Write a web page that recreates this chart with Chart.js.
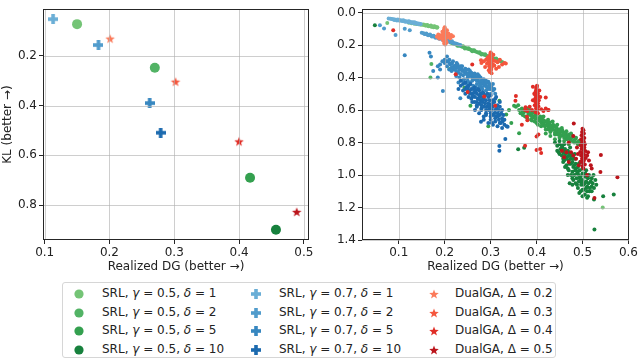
<!DOCTYPE html>
<html>
<head>
    <title>SRL vs DualGA</title>
    <meta charset="UTF-8">
    <script src="https://cdn.jsdelivr.net/npm/chart.js"></script>
    <style>
        body { margin: 0; width: 640px; height: 361px; background: #fff; position: relative; overflow: hidden;
               font-family: "DejaVu Sans", sans-serif; color: #222; }
        .wrap { position: absolute; top: 0; height: 275px; }
        #legend { position: absolute; left: 62px; top: 282px; width: 494px; height: 76px;
                  border: 1px solid #d6d6d6; border-radius: 3px; box-sizing: border-box; }
        .item { position: absolute; font-size: 12px; line-height: 14px; white-space: nowrap; }
    </style>
</head>
<body>
<div class="wrap" style="left:0;width:316px"><canvas id="left"></canvas></div>
<div class="wrap" style="left:320px;width:320px"><canvas id="right"></canvas></div>
<div id="legend"></div>
<script>
    // 图例标签
    var deltaValues = ['1', '2', '5', '10'];
    var bigDeltaValues = ['0.2', '0.3', '0.4', '0.5'];

    // 颜色
    var greenColors = ['#74c476', '#52b365', '#34a04f', '#17813d'];
    var blueColors = ['#6aaed6', '#519ccc', '#3787c0', '#1c6aaf'];
    var redColors = ['#fb7a5a', '#f5573e', '#e02d26', '#bb141b'];

    // 左图：平均值 [DG, KL]
    var meanGreen = [[0.150, 0.073], [0.270, 0.248], [0.417, 0.690], [0.457, 0.899]];
    var meanBlue = [[0.113, 0.053], [0.183, 0.157], [0.262, 0.390], [0.279, 0.509]];
    var meanRed = [[0.201, 0.131], [0.302, 0.304], [0.400, 0.544], [0.489, 0.827]];

    // 右图：每次运行的点
    var runsGreen1 = [[0.122,0.062],[0.128,0.066],[0.134,0.068],[0.139,0.07],[0.144,0.072],[0.148,0.074],[0.152,0.075],[0.156,0.077],[0.16,0.079],[0.163,0.08],[0.166,0.082],[0.169,0.083],[0.172,0.085],[0.175,0.086],[0.178,0.087],[0.181,0.089],[0.184,0.09],[0.158,0.08],[0.165,0.084],[0.171,0.087],[0.176,0.09],[0.183,0.093],[0.154,0.073],[0.162,0.076],[0.17,0.08],[0.178,0.084],[0.075,0.064],[0.544,1.2]];
    var runsGreen2 = [[0.214,0.185],[0.218,0.19],[0.222,0.194],[0.226,0.198],[0.23,0.202],[0.234,0.206],[0.238,0.21],[0.242,0.214],[0.246,0.218],[0.25,0.222],[0.254,0.226],[0.258,0.23],[0.262,0.234],[0.266,0.238],[0.27,0.243],[0.274,0.247],[0.278,0.251],[0.282,0.255],[0.286,0.26],[0.29,0.264],[0.294,0.268],[0.298,0.272],[0.302,0.277],[0.306,0.281],[0.31,0.285],[0.314,0.29],[0.318,0.295],[0.322,0.3],[0.326,0.305],[0.24,0.207],[0.252,0.219],[0.264,0.231],[0.276,0.244],[0.288,0.257],[0.3,0.27],[0.312,0.283],[0.228,0.204],[0.244,0.221],[0.26,0.238],[0.28,0.258],[0.296,0.276],[0.316,0.298],[0.171,0.317],[0.169,0.4],[0.21,0.347]];
    var runsGreen5 = [[0.355,0.58],[0.362,0.6],[0.368,0.59],[0.372,0.615],[0.378,0.605],[0.382,0.625],[0.386,0.63],[0.39,0.62],[0.392,0.645],[0.396,0.635],[0.398,0.655],[0.402,0.65],[0.405,0.665],[0.408,0.64],[0.41,0.675],[0.413,0.66],[0.415,0.685],[0.418,0.67],[0.42,0.695],[0.423,0.68],[0.425,0.7],[0.428,0.688],[0.43,0.71],[0.432,0.695],[0.435,0.715],[0.438,0.7],[0.44,0.725],[0.443,0.71],[0.445,0.735],[0.448,0.72],[0.45,0.745],[0.453,0.73],[0.455,0.755],[0.458,0.74],[0.46,0.76],[0.463,0.75],[0.466,0.77],[0.47,0.76],[0.473,0.78],[0.477,0.77],[0.48,0.79],[0.484,0.78],[0.488,0.8],[0.492,0.79],[0.41,0.7],[0.42,0.72],[0.43,0.735],[0.44,0.75],[0.45,0.77],[0.4,0.68],[0.39,0.665],[0.38,0.65],[0.425,0.66],[0.435,0.67],[0.445,0.69],[0.455,0.71],[0.465,0.73],[0.475,0.745],[0.385,0.6],[0.37,0.63],[0.395,0.61],[0.415,0.64],[0.46,0.79],[0.47,0.81],[0.44,0.78],[0.43,0.76],[0.42,0.745],
        [0.36,0.57],[0.365,0.62],[0.37,0.6],[0.375,0.64],[0.38,0.59],[0.385,0.62],[0.388,0.66],[0.392,0.61],[0.396,0.67],[0.4,0.63],[0.403,0.69],[0.406,0.655],[0.41,0.65],[0.412,0.69],[0.416,0.665],[0.418,0.7],[0.422,0.67],[0.426,0.72],[0.428,0.675],[0.432,0.725],[0.436,0.69],[0.44,0.74],[0.442,0.7],[0.446,0.75],[0.45,0.72],[0.452,0.76],[0.456,0.725],[0.46,0.77],[0.462,0.74],[0.466,0.78],[0.47,0.75],[0.474,0.79],[0.478,0.76],[0.482,0.8],[0.486,0.77],[0.49,0.81],[0.494,0.8],[0.498,0.82],[0.47,0.77],[0.45,0.73],[0.43,0.7],[0.41,0.66],[0.39,0.64],[0.37,0.61],
        [0.243,0.463],[0.256,0.573],[0.295,0.699],[0.319,0.543],[0.334,0.627],[0.351,0.573],[0.362,0.742],[0.34,0.6],[0.345,0.68]];
    var runsGreen10 = [[0.44,0.8],[0.445,0.82],[0.45,0.81],[0.452,0.84],[0.456,0.83],[0.458,0.86],[0.46,0.85],[0.462,0.875],[0.465,0.86],[0.466,0.89],[0.47,0.88],[0.47,0.91],[0.474,0.9],[0.475,0.93],[0.478,0.92],[0.48,0.95],[0.482,0.94],[0.484,0.97],[0.486,0.96],[0.488,0.99],[0.49,0.98],[0.492,1.0],[0.494,1.02],[0.496,1.01],[0.498,1.04],[0.5,1.03],[0.502,1.06],[0.505,1.05],[0.508,1.08],[0.51,1.07],[0.515,1.1],[0.455,0.88],[0.46,0.91],[0.465,0.94],[0.47,0.97],[0.475,1.0],[0.48,1.03],[0.485,1.05],[0.468,0.85],[0.476,0.87],[0.484,0.9],[0.492,0.93],[0.5,0.96],[0.506,0.99],[0.512,1.02],[0.518,1.04],[0.52,1.07],[0.448,0.86],[0.458,0.9],[0.462,0.95],[0.472,1.05],[0.478,1.06],[0.49,1.08],[0.496,1.1],[0.505,1.12],[0.512,1.13],[0.524,1.0],[0.52,1.02],[0.525,1.08],[0.5,1.13],[0.488,1.06],
        [0.445,0.85],[0.45,0.87],[0.455,0.82],[0.458,0.92],[0.462,0.84],[0.465,0.9],[0.468,0.96],[0.47,0.86],[0.472,0.93],[0.475,0.88],[0.478,0.98],[0.48,0.9],[0.482,1.0],[0.485,0.93],[0.487,1.02],[0.49,0.95],[0.492,1.04],[0.494,0.97],[0.497,1.06],[0.5,0.99],[0.503,1.09],[0.506,1.01],[0.508,1.04],[0.51,1.1],[0.513,1.05],[0.516,1.08],[0.52,1.1],[0.522,1.05],[0.514,1.0],[0.508,0.97],[0.495,0.92],[0.483,0.87],[0.473,0.83],[0.46,0.81],[0.45,0.79],[0.468,1.0],[0.478,1.02],[0.5,1.09],[0.493,1.11],[0.51,1.14],[0.53,1.06],[0.528,1.03],
        [0.545,1.13],[0.568,1.12],[0.525,1.15],[0.526,1.335],[0.36,0.842],[0.373,0.832],[0.048,0.078]];
    var runsBlue1 = [[0.078,0.036],[0.082,0.038],[0.085,0.04],[0.088,0.041],[0.091,0.042],[0.094,0.044],[0.097,0.045],[0.1,0.046],[0.103,0.047],[0.106,0.049],[0.109,0.05],[0.112,0.051],[0.115,0.053],[0.118,0.054],[0.121,0.056],[0.124,0.057],[0.127,0.059],[0.13,0.06],[0.133,0.062],[0.136,0.063],[0.139,0.065],[0.142,0.067],[0.145,0.068],[0.148,0.07],[0.09,0.045],[0.096,0.048],[0.102,0.05],[0.108,0.052],[0.114,0.056],[0.12,0.058],[0.126,0.062],[0.132,0.065],[0.138,0.068],[0.144,0.071],[0.098,0.042],[0.11,0.047],[0.122,0.053],[0.134,0.059]];
    var runsBlue2 = [[0.15,0.124],[0.154,0.127],[0.158,0.131],[0.162,0.134],[0.166,0.138],[0.17,0.141],[0.174,0.145],[0.178,0.149],[0.182,0.152],[0.186,0.156],[0.19,0.159],[0.194,0.163],[0.198,0.167],[0.202,0.17],[0.206,0.174],[0.21,0.178],[0.214,0.181],[0.218,0.185],[0.222,0.189],[0.226,0.192],[0.23,0.196],[0.234,0.2],[0.156,0.132],[0.164,0.14],[0.172,0.147],[0.18,0.155],[0.188,0.161],[0.196,0.168],[0.204,0.176],[0.212,0.183],[0.22,0.19],[0.16,0.128],[0.168,0.135],[0.176,0.142],[0.184,0.148],[0.192,0.156],[0.2,0.163],[0.208,0.17],[0.216,0.177],[0.059,0.078],[0.068,0.098],[0.093,0.138],[0.113,0.1],[0.124,0.108]];
    var runsBlue5 = [[0.2,0.29],[0.205,0.3],[0.21,0.31],[0.212,0.32],[0.216,0.315],[0.22,0.33],[0.224,0.325],[0.226,0.34],[0.23,0.335],[0.232,0.35],[0.236,0.345],[0.238,0.36],[0.24,0.355],[0.244,0.37],[0.246,0.365],[0.248,0.38],[0.252,0.375],[0.254,0.39],[0.256,0.385],[0.26,0.4],[0.262,0.39],[0.264,0.41],[0.268,0.405],[0.27,0.42],[0.272,0.41],[0.276,0.43],[0.278,0.425],[0.28,0.44],[0.284,0.435],[0.286,0.45],[0.29,0.445],[0.292,0.46],[0.296,0.455],[0.3,0.47],[0.305,0.48],[0.31,0.5],[0.22,0.35],[0.23,0.37],[0.24,0.385],[0.25,0.4],[0.26,0.42],[0.27,0.44],[0.28,0.46],[0.29,0.48],[0.235,0.33],[0.245,0.345],[0.255,0.36],[0.265,0.375],[0.275,0.39],[0.285,0.41],[0.295,0.425],[0.305,0.44],[0.215,0.34],[0.225,0.36],[0.235,0.38],[0.25,0.42],[0.3,0.5],[0.21,0.29],[0.226,0.31],
        [0.205,0.33],[0.215,0.36],[0.218,0.3],[0.225,0.39],[0.228,0.32],[0.232,0.4],[0.238,0.33],[0.242,0.41],[0.245,0.36],[0.248,0.44],[0.252,0.35],[0.255,0.43],[0.258,0.37],[0.262,0.45],[0.266,0.39],[0.268,0.46],[0.272,0.38],[0.276,0.45],[0.278,0.4],[0.282,0.47],[0.285,0.42],[0.288,0.44],[0.292,0.43],[0.296,0.47],[0.298,0.44],[0.302,0.46],[0.308,0.47],[0.21,0.35],[0.2,0.31],[0.195,0.3],[0.19,0.35],[0.23,0.43],[0.24,0.42],[0.25,0.38],[0.26,0.38],[0.27,0.4],[0.28,0.42],[0.29,0.42],[0.3,0.45],
        [0.113,0.263],[0.167,0.247],[0.196,0.483],[0.185,0.4],[0.175,0.36],[0.185,0.33],[0.19,0.32],[0.205,0.27],[0.17,0.27],[0.234,0.527]];
    var runsBlue10 = [[0.235,0.42],[0.24,0.44],[0.245,0.43],[0.248,0.46],[0.252,0.45],[0.255,0.48],[0.258,0.47],[0.26,0.5],[0.264,0.49],[0.266,0.52],[0.27,0.5],[0.272,0.53],[0.275,0.51],[0.278,0.54],[0.28,0.52],[0.282,0.55],[0.285,0.53],[0.288,0.56],[0.29,0.54],[0.292,0.58],[0.295,0.56],[0.298,0.59],[0.3,0.57],[0.302,0.6],[0.305,0.58],[0.308,0.62],[0.31,0.6],[0.312,0.64],[0.315,0.62],[0.318,0.66],[0.32,0.63],[0.322,0.68],[0.325,0.65],[0.33,0.69],[0.335,0.7],[0.25,0.49],[0.26,0.52],[0.27,0.55],[0.28,0.57],[0.29,0.6],[0.3,0.62],[0.31,0.65],[0.265,0.46],[0.275,0.48],[0.285,0.5],[0.295,0.52],[0.305,0.54],[0.315,0.57],[0.325,0.6],[0.245,0.47],[0.255,0.5],[0.3,0.51],[0.31,0.53],[0.32,0.58],[0.28,0.6],[0.29,0.63],[0.3,0.66],[0.26,0.55],[0.27,0.58],
        [0.24,0.48],[0.245,0.5],[0.25,0.46],[0.252,0.52],[0.256,0.44],[0.258,0.53],[0.262,0.47],[0.265,0.55],[0.268,0.48],[0.27,0.57],[0.273,0.47],[0.276,0.56],[0.278,0.5],[0.28,0.59],[0.283,0.49],[0.286,0.58],[0.288,0.51],[0.29,0.62],[0.293,0.5],[0.296,0.6],[0.298,0.54],[0.3,0.64],[0.303,0.56],[0.306,0.63],[0.308,0.55],[0.31,0.67],[0.313,0.59],[0.316,0.64],[0.318,0.6],[0.32,0.68],[0.323,0.62],[0.326,0.67],[0.328,0.63],[0.33,0.66],[0.32,0.55],[0.312,0.52],[0.297,0.57],[0.284,0.54],[0.274,0.53],[0.262,0.51],[0.25,0.47],[0.235,0.45],[0.23,0.47],[0.266,0.6],[0.275,0.62],[0.285,0.64],[0.295,0.68],[0.305,0.69],[0.315,0.7],[0.325,0.71],
        [0.319,0.822],[0.319,0.85],[0.332,0.778],[0.337,0.702],[0.279,0.672],[0.285,0.66],[0.303,0.68]];
    var runsRed02 = [[0.2,0.09],[0.199,0.1],[0.201,0.105],[0.198,0.11],[0.202,0.115],[0.2,0.12],[0.197,0.125],[0.203,0.128],[0.2,0.132],[0.196,0.136],[0.204,0.138],[0.199,0.142],[0.201,0.146],[0.194,0.145],[0.206,0.15],[0.2,0.152],[0.198,0.158],[0.202,0.162],[0.2,0.168],[0.197,0.172],[0.203,0.176],[0.2,0.182],[0.199,0.19],[0.201,0.196],[0.19,0.14],[0.186,0.135],[0.21,0.142],[0.214,0.138],[0.192,0.152],[0.208,0.128],[0.188,0.16],[0.212,0.158],[0.218,0.145],[0.195,0.118],[0.205,0.108],[0.196,0.165],[0.204,0.185],[0.183,0.148]];
    var runsRed03 = [[0.3,0.245],[0.301,0.252],[0.299,0.258],[0.302,0.264],[0.298,0.27],[0.3,0.276],[0.303,0.282],[0.297,0.288],[0.301,0.292],[0.304,0.297],[0.296,0.3],[0.3,0.305],[0.302,0.31],[0.298,0.315],[0.305,0.32],[0.3,0.325],[0.297,0.33],[0.302,0.336],[0.299,0.342],[0.301,0.35],[0.3,0.358],[0.298,0.366],[0.302,0.374],[0.29,0.29],[0.285,0.3],[0.31,0.298],[0.315,0.305],[0.292,0.315],[0.308,0.325],[0.28,0.31],[0.32,0.29],[0.325,0.32],[0.288,0.335],[0.312,0.345],[0.306,0.26],[0.294,0.275],[0.33,0.31],[0.296,0.355],[0.318,0.335],[0.279,0.293],[0.333,0.313]];
    var runsRed04 = [[0.401,0.45],[0.4,0.46],[0.399,0.47],[0.402,0.478],[0.398,0.486],[0.401,0.494],[0.403,0.5],[0.397,0.506],[0.4,0.512],[0.404,0.518],[0.398,0.524],[0.401,0.53],[0.396,0.536],[0.405,0.54],[0.4,0.546],[0.398,0.552],[0.403,0.558],[0.4,0.564],[0.396,0.57],[0.404,0.576],[0.4,0.582],[0.399,0.59],[0.402,0.598],[0.4,0.606],[0.398,0.614],[0.403,0.62],[0.39,0.6],[0.41,0.595],[0.385,0.58],[0.415,0.605],[0.42,0.59],[0.38,0.605],[0.392,0.54],[0.408,0.52],[0.395,0.5],[0.406,0.48],[0.425,0.6],[0.375,0.6],[0.088,0.108],[0.25,0.489],[0.286,0.517],[0.31,0.573],[0.355,0.513],[0.354,0.542],[0.376,0.583],[0.392,0.457],[0.42,0.523],[0.38,0.663],[0.379,0.641],[0.368,0.69],[0.4,0.762],[0.404,0.75],[0.4,0.846],[0.408,0.84],[0.41,0.864],[0.375,0.82],[0.426,0.6],[0.224,0.38],[0.26,0.32]];
    var runsRed05 = [[0.5,0.715],[0.502,0.725],[0.499,0.735],[0.503,0.745],[0.498,0.755],[0.501,0.765],[0.504,0.772],[0.497,0.78],[0.5,0.788],[0.503,0.795],[0.499,0.802],[0.505,0.81],[0.496,0.816],[0.501,0.822],[0.504,0.83],[0.498,0.838],[0.502,0.845],[0.506,0.852],[0.495,0.858],[0.5,0.865],[0.503,0.872],[0.497,0.88],[0.501,0.888],[0.507,0.895],[0.499,0.9],[0.503,0.91],[0.496,0.918],[0.501,0.925],[0.505,0.935],[0.5,0.945],[0.502,0.96],[0.51,0.88],[0.512,0.86],[0.49,0.87],[0.486,0.9],[0.514,0.91],[0.48,0.88],[0.518,0.94],[0.488,0.83],[0.475,0.86],[0.52,0.96],[0.492,0.94],[0.481,0.683],[0.54,0.876],[0.539,0.982],[0.576,1.014],[0.526,1.142],[0.465,0.86],[0.46,0.89],[0.47,0.92],[0.455,0.85],[0.48,0.76],[0.51,1.0],[0.47,0.8]];

    // 刻度
    var xTicksLeft = [0.1, 0.2, 0.3, 0.4, 0.5];
    var yTicksLeft = [0.2, 0.4, 0.6, 0.8];
    var xTicksRight = [0.1, 0.2, 0.3, 0.4, 0.5, 0.6];
    var yTicksRight = [0.0, 0.2, 0.4, 0.6, 0.8, 1.0, 1.2, 1.4];

    var axisTitleX = 'Realized DG (better →)';
    var axisTitleY = 'KL (better →)';

    Chart.defaults.font.family = 'DejaVu Sans';
    Chart.defaults.font.size = 12;
    Chart.defaults.color = '#222';

    // 标记图形
    function plusMarker(color, size, t) {
        var c = document.createElement('canvas');
        c.width = c.height = size;
        var g = c.getContext('2d');
        g.fillStyle = color;
        g.fillRect((size - t) / 2, 0, t, size);
        g.fillRect(0, (size - t) / 2, size, t);
        return c;
    }
    function starMarker(color, r) {
        var s = Math.ceil(r * 2) + 2;
        var c = document.createElement('canvas');
        c.width = c.height = s;
        var g = c.getContext('2d');
        g.fillStyle = color;
        g.beginPath();
        for (var i = 0; i < 10; i++) {
            var rad = i % 2 ? r * 0.42 : r;
            var a = -Math.PI / 2 + i * Math.PI / 5;
            var px = s / 2 + rad * Math.cos(a), py = s / 2 + rad * Math.sin(a) + 0.5;
            if (i) g.lineTo(px, py); else g.moveTo(px, py);
        }
        g.closePath();
        g.fill();
        return c;
    }
    function circleMarker(color, r) {
        var s = Math.ceil(r * 2) + 2;
        var c = document.createElement('canvas');
        c.width = c.height = s;
        var g = c.getContext('2d');
        g.fillStyle = color;
        g.beginPath();
        g.arc(s / 2, s / 2, r, 0, Math.PI * 2);
        g.fill();
        return c;
    }

    function toXY(arr) { return arr.map(function (p) { return { x: p[0], y: p[1] }; }); }

    // 网格线画在点的上面，四边框
    var gridOnTop = {
        id: 'gridOnTop',
        afterDatasetsDraw: function (chart) {
            var ctx = chart.ctx, a = chart.chartArea;
            var sx = chart.scales.x, sy = chart.scales.y;
            ctx.save();
            ctx.strokeStyle = 'rgba(176,176,176,0.62)';
            ctx.lineWidth = 1;
            ctx.beginPath();
            sx.ticks.forEach(function (t) {
                var px = Math.round(sx.getPixelForValue(t.value)) + 0.5;
                ctx.moveTo(px, a.top); ctx.lineTo(px, a.bottom);
            });
            sy.ticks.forEach(function (t) {
                var py = Math.round(sy.getPixelForValue(t.value)) + 0.5;
                ctx.moveTo(a.left, py); ctx.lineTo(a.right, py);
            });
            ctx.stroke();
            ctx.strokeStyle = '#262626';
            ctx.strokeRect(Math.round(a.left) + 0.5, Math.round(a.top) + 0.5,
                Math.round(a.right - a.left) - 1, Math.round(a.bottom - a.top) - 1);
            ctx.restore();
        }
    };

    function makeOptions(xr, yr, xt, yt, yWidth, yTitle, rightPad) {
        return {
            responsive: true,
            maintainAspectRatio: false,
            animation: false,
            layout: { padding: { top: 2, right: rightPad, left: 0, bottom: 0 } },
            plugins: { legend: { display: false }, tooltip: { enabled: false } },
            scales: {
                x: {
                    type: 'linear', min: xr[0], max: xr[1],
                    afterBuildTicks: function (s) { s.ticks = xt.map(function (v) { return { value: v }; }); },
                    afterFit: function (s) { s.height = 35; },
                    ticks: { padding: 2, maxRotation: 0, callback: function (v) { return v.toFixed(1); } },
                    grid: { drawOnChartArea: false, tickLength: 4, tickColor: '#262626' },
                    border: { display: false },
                    title: { display: true, text: axisTitleX, padding: { top: 1, bottom: 1 } }
                },
                y: {
                    type: 'linear', min: yr[0], max: yr[1], reverse: true,
                    afterBuildTicks: function (s) { s.ticks = yt.map(function (v) { return { value: v }; }); },
                    afterFit: function (s) { s.width = yWidth; },
                    ticks: { padding: 2, callback: function (v) { return v.toFixed(1); } },
                    grid: { drawOnChartArea: false, tickLength: 4, tickColor: '#262626' },
                    border: { display: false },
                    title: { display: !!yTitle, text: yTitle, padding: { top: 1, bottom: 1 } }
                }
            }
        };
    }

    // 左图
    var leftSets = [];
    meanRed.forEach(function (p, i) {
        leftSets.push({ data: toXY([p]), pointStyle: starMarker(redColors[i], 5), order: 0 });
    });
    meanBlue.forEach(function (p, i) {
        leftSets.push({ data: toXY([p]), pointStyle: plusMarker(blueColors[i], 10, 3.6), order: 1 });
    });
    meanGreen.forEach(function (p, i) {
        leftSets.push({ data: toXY([p]), pointStyle: 'circle', pointRadius: 5, backgroundColor: greenColors[i],
            borderWidth: 0, order: 2 });
    });
    new Chart(document.getElementById('left'), {
        type: 'scatter',
        data: { datasets: leftSets },
        options: makeOptions([0.0974, 0.508], [0.013, 0.94], xTicksLeft, yTicksLeft, 43, axisTitleY, 7),
        plugins: [gridOnTop]
    });

    // 右图
    var runsGreen = [runsGreen1, runsGreen2, runsGreen5, runsGreen10];
    var runsBlue = [runsBlue1, runsBlue2, runsBlue5, runsBlue10];
    var runsRed = [runsRed02, runsRed03, runsRed04, runsRed05];
    var rightSets = [];
    [[runsRed, redColors, 0], [runsBlue, blueColors, 1], [runsGreen, greenColors, 2]].forEach(function (grp) {
        grp[0].forEach(function (arr, i) {
            rightSets.push({ data: toXY(arr), pointStyle: 'circle', pointRadius: 2, backgroundColor: grp[1][i],
                borderWidth: 0, order: grp[2] * 4 + (3 - i) });
        });
    });
    new Chart(document.getElementById('right'), {
        type: 'scatter',
        data: { datasets: rightSets },
        options: makeOptions([0.020, 0.601], [-0.021, 1.4], xTicksRight, yTicksRight, 42, '', 9),
        plugins: [gridOnTop]
    });

    // 图例
    var legendCols = [
        { labels: deltaValues.map(function (d) { return 'SRL, <i>γ</i> = 0.5, <i>δ</i> = ' + d; }), colors: greenColors, kind: 'circle' },
        { labels: deltaValues.map(function (d) { return 'SRL, <i>γ</i> = 0.7, <i>δ</i> = ' + d; }), colors: blueColors, kind: 'plus' },
        { labels: bigDeltaValues.map(function (d) { return 'DualGA, Δ = ' + d; }), colors: redColors, kind: 'star' }
    ];
    var colMarkerX = [16, 193, 371];
    var colTextX = [39, 216, 392];
    var rowY = [11, 29.5, 48, 66.5];
    var legend = document.getElementById('legend');
    legendCols.forEach(function (col, ci) {
        col.labels.forEach(function (lab, ri) {
            var m = col.kind === 'circle' ? circleMarker(col.colors[ri], 4.6)
                : col.kind === 'plus' ? plusMarker(col.colors[ri], 10, 3.6) : starMarker(col.colors[ri], 5);
            m.style.position = 'absolute';
            m.style.left = (colMarkerX[ci] - m.width / 2) + 'px';
            m.style.top = (rowY[ri] - m.height / 2) + 'px';
            legend.appendChild(m);
            var t = document.createElement('div');
            t.className = 'item';
            t.innerHTML = lab;
            t.style.left = colTextX[ci] + 'px';
            t.style.top = (rowY[ri] - 8) + 'px';
            legend.appendChild(t);
        });
    });
</script>
</body>
</html>
